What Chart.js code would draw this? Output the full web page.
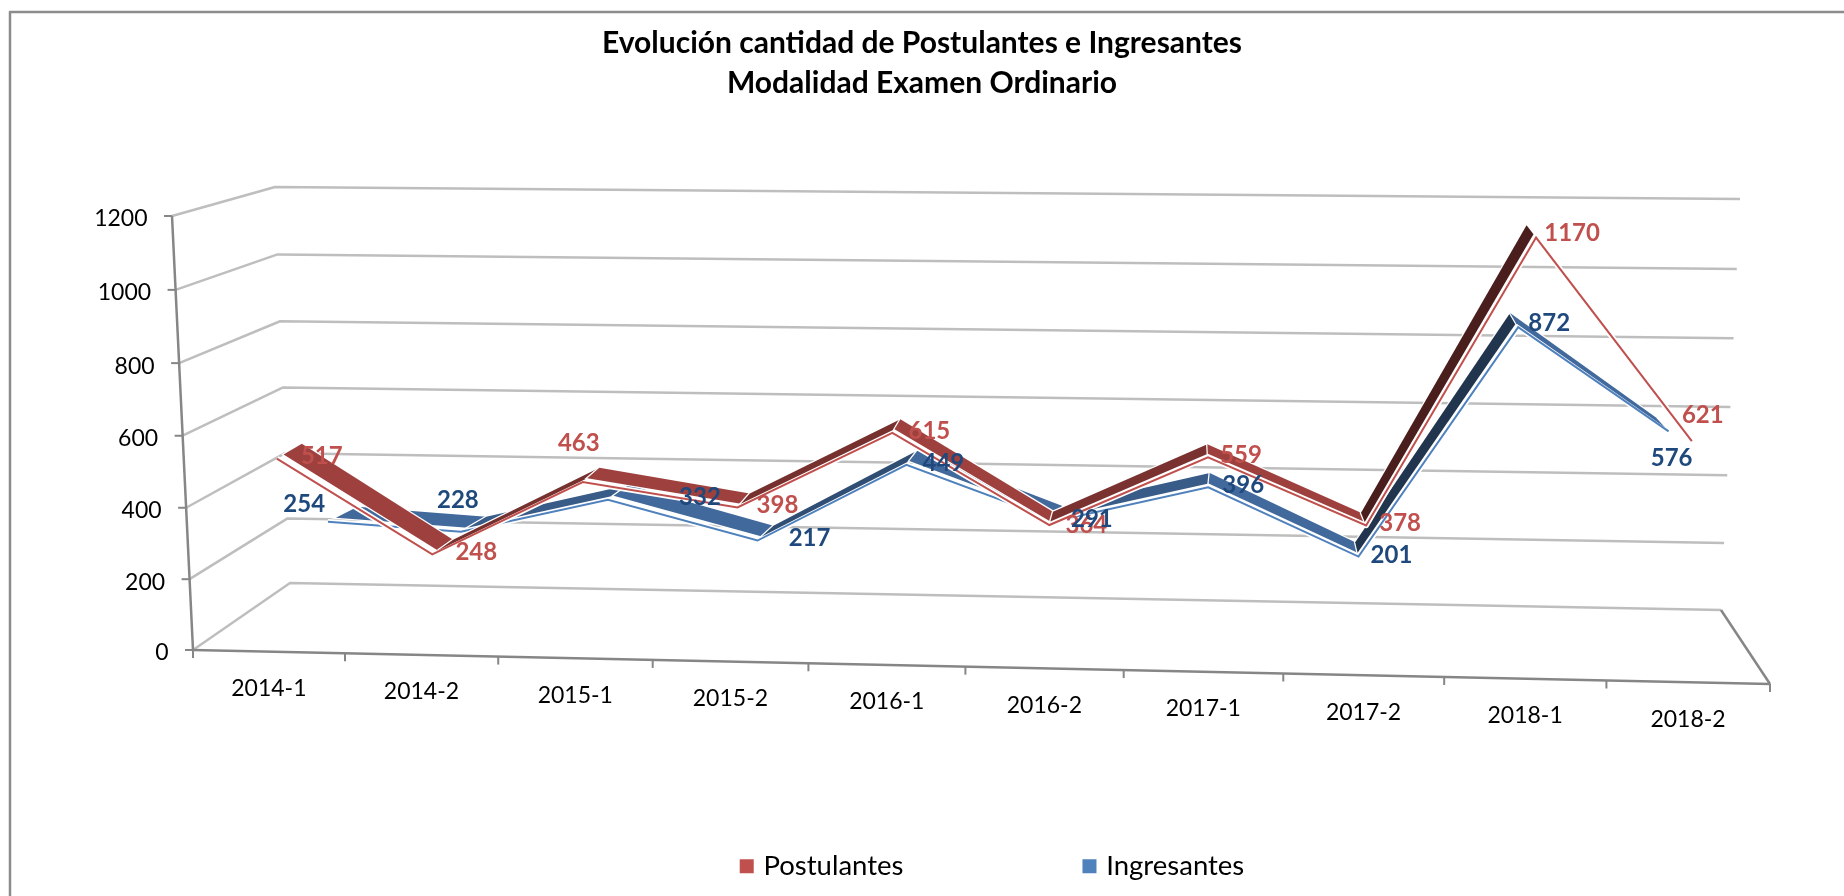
<!DOCTYPE html>
<html>
<head>
<meta charset="utf-8">
<script src="https://cdn.jsdelivr.net/npm/chart.js@4"></script>
<style>html,body{margin:0;padding:0;background:#fff}canvas{display:block}</style>
</head>
<body>
<canvas id="c" width="1844" height="896"></canvas>
<script>
// ---- data ----
const categories = ['2014-1','2014-2','2015-1','2015-2','2016-1','2016-2','2017-1','2017-2','2018-1','2018-2'];
const postulantes = [517,248,463,398,615,364,559,378,1170,621];
const ingresantes = [254,228,332,217,449,291,396,201,872,576];
const yMin = 0, yMax = 1200, yStep = 200;

// ---- label nudges relative to each projected point ----
const postulantesLabelDx = [45,44,-4,40,37,37,33,34,36,11];
const postulantesLabelDy = [-4,-4,-41,-4,-4,-2,-4,-4,-6,-28];
const ingresantesLabelDx = [-9,-3,92,52,37,35,35,33,31,3];
const ingresantesLabelDy = [-18,-33,-4,-4,-4,-3,-4,-3,-6,25];

// ---- oblique view of the plot box ----
const FONT = 'Lato';
const GRID = '#BEBEBE', AXIS = '#868686';
const frontWall = {bl:[193,650], br:[1770,684], tl:[172,216], warp:0.96};
const backLeft = {v0:[290,583], v1:[275,187]};
const backRight = {v0:[1721,610], v1:[1740,199]};
const wallWarp = 0.975;
const planes = [
  {bl:[285,637], br:[1682,671], tl:[266,223], tr:[1701,227], warp:0.965,
   back:{l:[25,-15], r:[-14,-12]}, ribbonFrom:0.27, face:[0x9E,0x41,0x3E], trim:0,
   text:'#C0504D', dx:postulantesLabelDx, dy:postulantesLabelDy},
  {bl:[317,604], br:[1660,632], tl:[299,210], tr:[1678,214], warp:0.98,
   back:{l:[30,-15], r:[-13,-14]}, ribbonFrom:0.27, face:[0x41,0x69,0x9C], trim:0.1,
   text:'#1F497D', dx:ingresantesLabelDx, dy:ingresantesLabelDy}
];
const lerp = (a,b,t)=>[a[0]+(b[0]-a[0])*t, a[1]+(b[1]-a[1])*t];
const warpU = (u,w)=>u*w/(u*w+1-u);
function onPlane(pl,u,v,depth){
  const uu = warpU(u,pl.warp);
  const bot = lerp(pl.bl,pl.br,uu), top = lerp(pl.tl,pl.tr,uu);
  const p = lerp(bot,top,v);
  if(!depth) return p;
  const d = lerp(pl.back.l,pl.back.r,uu);
  return [p[0]+d[0]*depth, p[1]+d[1]*depth];
}
function floorPoint(u){ return lerp(frontWall.bl,frontWall.br,warpU(u,frontWall.warp)); }
function line(ctx,pts,color,w){
  ctx.beginPath(); pts.forEach((p,i)=>i?ctx.lineTo(p[0],p[1]):ctx.moveTo(p[0],p[1]));
  ctx.strokeStyle=color; ctx.lineWidth=w; ctx.lineJoin='round'; ctx.stroke();
}
function normals(chart,values){
  const xs=chart.scales.x, ys=chart.scales.y;
  const x0=xs.getPixelForValue(0), x1=xs.getPixelForValue(categories.length-1);
  return values.map((val,i)=>[(xs.getPixelForValue(i)-x0)/(x1-x0),
                              (ys.getPixelForValue(val)-ys.bottom)/(ys.top-ys.bottom)]);
}
function seriesPoints(chart,di,depth){
  const pl=planes[di], n=normals(chart,chart.data.datasets[di].data);
  const pts=n.map(a=>onPlane(pl,a[0],a[1],depth));
  if(pl.trim) pts[0]=lerp(pts[0],pts[1],pl.trim);
  return pts;
}

const obliquePlugin = {
  id:'oblique',
  afterLayout(chart){
    const lg=chart.legend; lg.left+=72; lg.right+=72;
  },
  afterDatasetsUpdate(chart){
    chart.data.datasets.forEach((ds,di)=>{
      const pts=seriesPoints(chart,di,0);
      chart.getDatasetMeta(di).data.forEach((el,i)=>{el.x=pts[i][0]; el.y=pts[i][1];});
    });
  },
  beforeDraw(chart){
    const ctx=chart.ctx, xs=chart.scales.x, ys=chart.scales.y;
    ctx.save();
    ctx.fillStyle='#fff'; ctx.fillRect(0,0,chart.width,chart.height);
    line(ctx,[[10,896],[10,12],[1844,12]],'#8C8C8C',2.5);
    ctx.restore();
    xs._computeLabelArea=()=>undefined; ys._computeLabelArea=()=>undefined;
    xs.getLabelItems().forEach((it,i)=>{
      const u=(xs.getPixelForValue(i)-xs.left)/(xs.right-xs.left), p=floorPoint(u);
      it.textOffset=0; it.options.textAlign='center'; it.options.textBaseline='middle';
      it.options.translation=[p[0],p[1]+37];
    });
    ys.getLabelItems().forEach((it,i)=>{
      const v=warpU((ys.ticks[i].value-yMin)/(yMax-yMin),wallWarp), a=lerp(frontWall.bl,frontWall.tl,v);
      it.textOffset=0; it.options.textAlign='right'; it.options.textBaseline='middle';
      it.options.translation=[a[0]-24.5,a[1]+3];
    });
  },
  beforeDatasetsDraw(chart){
    const ctx=chart.ctx, xs=chart.scales.x, ys=chart.scales.y;
    ctx.save();
    ys.ticks.forEach(t=>{
      const v=warpU((t.value-yMin)/(yMax-yMin),wallWarp);
      const a=lerp(frontWall.bl,frontWall.tl,v), b=lerp(backLeft.v0,backLeft.v1,v), c=lerp(backRight.v0,backRight.v1,v);
      line(ctx,[a,b,c],GRID,2.5);
      line(ctx,[[a[0]-8,a[1]],a],AXIS,2);
    });
    line(ctx,[backRight.v0,frontWall.br],AXIS,2.5);
    line(ctx,[frontWall.tl,frontWall.bl],AXIS,2.5);
    line(ctx,[frontWall.bl,frontWall.br],AXIS,2.5);
    const n=categories.length;
    for(let i=0;i<=n;i++){
      const p=floorPoint(i/n);
      line(ctx,[p,[p[0],p[1]+8]],AXIS,2);
    }
    ctx.restore();
  },
  beforeDatasetDraw(chart,args){
    const di=args.index, pl=planes[di], ctx=chart.ctx;
    const f=seriesPoints(chart,di,0), a=seriesPoints(chart,di,pl.ribbonFrom), b=seriesPoints(chart,di,1);
    ctx.save();
    line(ctx,f,'#fff',5.5);
    for(let i=0;i<f.length-1;i++){
      const dx=a[i+1][0]-a[i][0], dy=a[i+1][1]-a[i][1];
      const ox=b[i][0]-a[i][0]+b[i+1][0]-a[i+1][0], oy=b[i][1]-a[i][1]+b[i+1][1]-a[i+1][1];
      if(dx*oy-dy*ox>=0) continue;               // top face turned away from the viewer
      const rise=Math.max(0,-dy/dx), k=1/(1+0.69*rise);
      const col='rgb('+pl.face.map(c=>Math.round(c*k)).join(',')+')';
      ctx.beginPath();
      ctx.moveTo(a[i][0],a[i][1]); ctx.lineTo(a[i+1][0],a[i+1][1]);
      ctx.lineTo(b[i+1][0],b[i+1][1]); ctx.lineTo(b[i][0],b[i][1]); ctx.closePath();
      ctx.lineJoin='miter'; ctx.strokeStyle='#fff'; ctx.lineWidth=2.5; ctx.stroke();
      ctx.fillStyle=col; ctx.fill();
    }
    ctx.restore();
  },
  afterDatasetsDraw(chart){
    const ctx=chart.ctx;
    ctx.save();
    ctx.font='bold 24px '+FONT; ctx.textAlign='center'; ctx.textBaseline='middle';
    planes.forEach((pl,di)=>{
      const vals=chart.data.datasets[di].data, n=normals(chart,vals);
      ctx.fillStyle=pl.text;
      vals.forEach((val,i)=>{
        const p=onPlane(pl,n[i][0],n[i][1],0);
        ctx.fillText(String(val),p[0]+pl.dx[i],p[1]+pl.dy[i]+2);
      });
    });
    ctx.restore();
  }
};

new Chart(document.getElementById('c'),{
  type:'line',
  data:{labels:categories,datasets:[
    {label:'Postulantes',data:postulantes,borderColor:'#C0504D',backgroundColor:'#C0504D',borderWidth:2,pointRadius:0,tension:0,clip:false},
    {label:'Ingresantes',data:ingresantes,borderColor:'#4F81BD',backgroundColor:'#4F81BD',borderWidth:2,pointRadius:0,tension:0,clip:false}
  ]},
  options:{
    responsive:false, animation:false, devicePixelRatio:1,
    layout:{padding:{bottom:6}},
    scales:{
      x:{type:'category',offset:true,grid:{display:false},border:{display:false},
         ticks:{color:'#000',font:{family:FONT,size:23},maxRotation:0,autoSkip:false}},
      y:{min:yMin,max:yMax,grid:{display:false},border:{display:false},
         ticks:{stepSize:yStep,color:'#000',font:{family:FONT,size:23},callback:v=>String(v)}}
    },
    plugins:{
      title:{display:true,text:['Evolución cantidad de Postulantes e Ingresantes','Modalidad Examen Ordinario'],
        color:'#000',padding:{top:23,bottom:10},font:{family:FONT,size:30,weight:'bold',lineHeight:1.333}},
      legend:{position:'bottom',labels:{color:'#000',boxWidth:6,boxHeight:6,padding:183,font:{family:FONT,size:27.5},
        generateLabels:c=>Chart.defaults.plugins.legend.labels.generateLabels(c).map(l=>({...l,lineWidth:8}))}},
      tooltip:{enabled:false}
    }
  },
  plugins:[obliquePlugin]
});
</script>
</body>
</html>
